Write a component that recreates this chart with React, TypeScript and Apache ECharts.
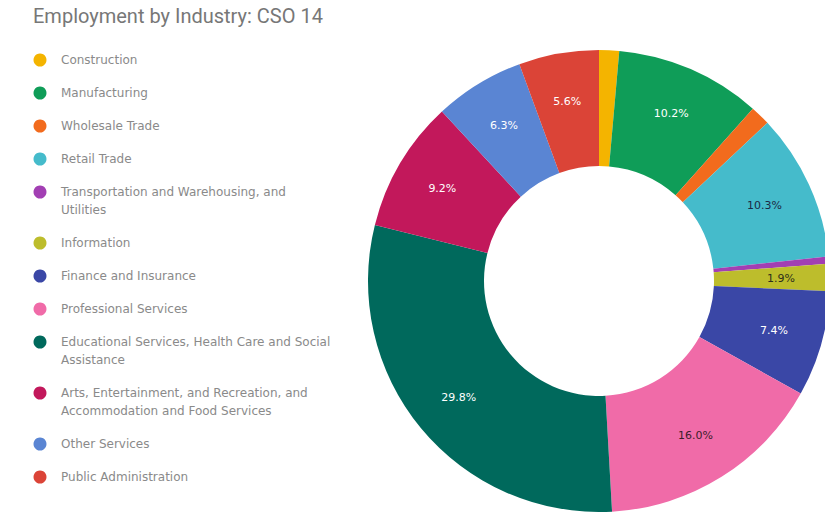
import React, { useEffect, useRef } from "react";
import * as echarts from "echarts";

const titleText = "Employment by Industry: CSO 14";
const categories = [
  "Construction",
  "Manufacturing",
  "Wholesale Trade",
  "Retail Trade",
  "Transportation and Warehousing, and Utilities",
  "Information",
  "Finance and Insurance",
  "Professional Services",
  "Educational Services, Health Care and Social Assistance",
  "Arts, Entertainment, and Recreation, and Accommodation and Food Services",
  "Other Services",
  "Public Administration",
];
const legendLines = [
  ["Construction"],
  ["Manufacturing"],
  ["Wholesale Trade"],
  ["Retail Trade"],
  ["Transportation and Warehousing, and", "Utilities"],
  ["Information"],
  ["Finance and Insurance"],
  ["Professional Services"],
  ["Educational Services, Health Care and Social", "Assistance"],
  ["Arts, Entertainment, and Recreation, and", "Accommodation and Food Services"],
  ["Other Services"],
  ["Public Administration"],
];
const values = [1.4, 10.2, 1.4, 10.3, 0.5, 1.9, 7.4, 16.0, 29.8, 9.2, 6.3, 5.6];
const colors = [
  "#F4B400", "#0F9D58", "#F26B1D", "#45BBCB", "#A23FB3", "#BDBD2C",
  "#3A47A6", "#F06BA8", "#00695C", "#C2185B", "#5A85D3", "#DB4437",
];
const labelColors = [
  "#ffffff", "#ffffff", "#ffffff", "#1b2a45", "#ffffff", "#2f2f1a",
  "#ffffff", "#3b1d2b", "#ffffff", "#ffffff", "#ffffff", "#ffffff",
];

const CX = 599;
const CY = 281;
const R0 = 115;
const R1 = 231;
const LABEL_R = 182;

export default function App() {
  const ref = useRef<HTMLDivElement>(null);
  useEffect(() => {
    if (!ref.current) return;
    const chart = echarts.init(ref.current, null, { renderer: "svg" });

    const legends: any[] = [];
    let extra = 0;
    categories.forEach((name, i) => {
      const lines = legendLines[i];
      const iconCenter = 60 + 33 * i + 18 * extra;
      const multi = lines.length > 1;
      // multi-line entries get a blank leading line so the first text line sits on the icon
      const text = multi ? "\n" + lines.join("\n") : lines[0];
      const blockH = (multi ? lines.length + 1 : 1) * 18;
      legends.push({
        orient: "vertical",
        left: 33.5,
        top: iconCenter - blockH / 2,
        padding: 0,
        data: [name],
        icon: "circle",
        itemWidth: 32,
        itemHeight: 13,
        selectedMode: false,
        formatter: () => text,
        textStyle: {
          fontFamily: "DejaVu Sans",
          fontSize: 12,
          color: "#8a8a8a",
          lineHeight: 18,
        },
      });
      extra += lines.length - 1;
    });

    chart.setOption({
      animation: false,
      color: colors,
      title: {
        text: titleText,
        left: 33,
        top: 6,
        padding: 0,
        textStyle: {
          fontFamily: "Roboto",
          fontSize: 20,
          fontWeight: "normal",
          color: "#777777",
        },
      },
      legend: legends,
      series: [
        {
          type: "pie",
          center: [CX, CY],
          radius: [R0, R1],
          startAngle: 90,
          clockwise: true,
          avoidLabelOverlap: false,
          labelLine: { show: false },
          label: {
            show: true,
            position: "inside",
            fontFamily: "DejaVu Sans",
            fontSize: 11,
            formatter: (p: any) => `${Number(p.value).toFixed(1)}%`,
          },
          labelLayout: (params: any) => {
            const r = params.labelRect;
            const lx = r.x + r.width / 2;
            const ly = r.y + r.height / 2;
            const dx = lx - CX;
            const dy = ly - CY;
            const d = Math.sqrt(dx * dx + dy * dy) || 1;
            return { x: CX + (dx / d) * LABEL_R, y: CY + (dy / d) * LABEL_R };
          },
          emphasis: { disabled: true },
          data: categories.map((name, i) => ({
            name,
            value: values[i],
            label: { show: values[i] >= 1.5, color: labelColors[i] },
          })),
        },
      ],
    });
    return () => chart.dispose();
  }, []);

  return (
    <div
      ref={ref}
      style={{ position: "fixed", left: 0, top: 0, width: 825, height: 512, background: "#fff" }}
    />
  );
}
